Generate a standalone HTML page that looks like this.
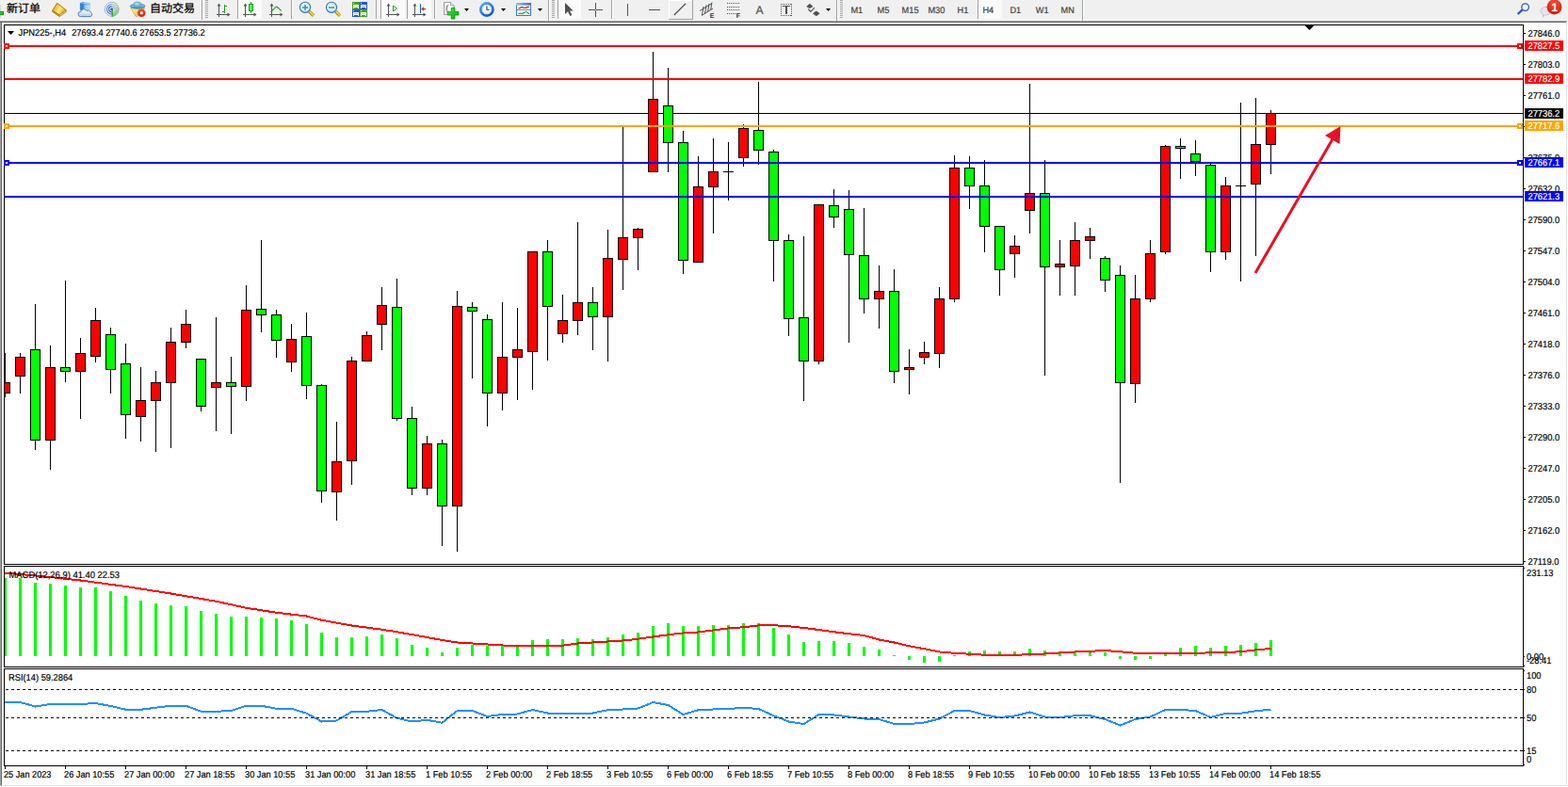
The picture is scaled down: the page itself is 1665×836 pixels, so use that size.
<!DOCTYPE html>
<html><head><meta charset="utf-8"><title>JPN225-,H4</title>
<style>html,body{margin:0;padding:0;background:#f0f0f0;}body{width:1665px;height:836px;overflow:hidden;font-family:"Liberation Sans",sans-serif;}svg{display:block}svg text{font-family:"Liberation Sans",sans-serif;}</style>
</head><body>
<svg width="1665" height="836" viewBox="0 0 1665 836" shape-rendering="crispEdges">
<rect x="0" y="0" width="1665" height="836" fill="#f0f0f0"/>
<rect x="0" y="21" width="1665" height="1" fill="#f7f7f7"/>
<rect x="0" y="22" width="1664" height="1" fill="#a0a0a0"/>
<rect x="0" y="23" width="1664" height="1" fill="#696969"/>
<rect x="1664" y="22" width="1" height="814" fill="#ffffff"/>
<rect x="0" y="24" width="1" height="811" fill="#a0a0a0"/>
<rect x="1" y="24" width="1" height="810" fill="#696969"/>
<rect x="2" y="24" width="1661" height="810" fill="#ffffff"/>
<rect x="1663" y="23" width="1" height="812" fill="#e3e3e3"/>
<rect x="1" y="834" width="1663" height="1" fill="#e3e3e3"/>
<rect x="0" y="835" width="1665" height="1" fill="#ffffff"/>
<rect x="4" y="26" width="1614" height="1" fill="#000"/>
<rect x="4" y="599" width="1614" height="1" fill="#000"/>
<rect x="4" y="26" width="1" height="574" fill="#000"/>
<rect x="1617" y="26" width="1" height="574" fill="#000"/>
<rect x="4" y="601" width="1614" height="1" fill="#000"/>
<rect x="4" y="708" width="1614" height="1" fill="#000"/>
<rect x="4" y="601" width="1" height="108" fill="#000"/>
<rect x="1617" y="601" width="1" height="108" fill="#000"/>
<rect x="4" y="710" width="1614" height="1" fill="#000"/>
<rect x="4" y="813" width="1614" height="1" fill="#000"/>
<rect x="4" y="710" width="1" height="104" fill="#000"/>
<rect x="1617" y="710" width="1" height="104" fill="#000"/>
<rect x="5" y="120" width="1612" height="1" fill="#000"/>
<rect x="5" y="375" width="1" height="47" fill="#000"/>
<rect x="5" y="406" width="6" height="12" fill="#000"/>
<rect x="5" y="407" width="5" height="10" fill="#ff0000"/>
<rect x="21" y="375" width="1" height="43" fill="#000"/>
<rect x="16" y="379" width="11" height="21" fill="#000"/>
<rect x="17" y="380" width="9" height="19" fill="#ff0000"/>
<rect x="37" y="323" width="1" height="155" fill="#000"/>
<rect x="32" y="371" width="11" height="97" fill="#000"/>
<rect x="33" y="372" width="9" height="95" fill="#00ff00"/>
<rect x="53" y="367" width="1" height="132" fill="#000"/>
<rect x="48" y="390" width="11" height="78" fill="#000"/>
<rect x="49" y="391" width="9" height="76" fill="#ff0000"/>
<rect x="69" y="298" width="1" height="108" fill="#000"/>
<rect x="64" y="390" width="11" height="5" fill="#000"/>
<rect x="65" y="391" width="9" height="3" fill="#00ff00"/>
<rect x="85" y="359" width="1" height="86" fill="#000"/>
<rect x="80" y="375" width="11" height="20" fill="#000"/>
<rect x="81" y="376" width="9" height="18" fill="#ff0000"/>
<rect x="101" y="327" width="1" height="58" fill="#000"/>
<rect x="96" y="340" width="11" height="39" fill="#000"/>
<rect x="97" y="341" width="9" height="37" fill="#ff0000"/>
<rect x="117" y="348" width="1" height="70" fill="#000"/>
<rect x="112" y="355" width="11" height="38" fill="#000"/>
<rect x="113" y="356" width="9" height="36" fill="#00ff00"/>
<rect x="133" y="365" width="1" height="101" fill="#000"/>
<rect x="128" y="386" width="11" height="55" fill="#000"/>
<rect x="129" y="387" width="9" height="53" fill="#00ff00"/>
<rect x="149" y="390" width="1" height="79" fill="#000"/>
<rect x="144" y="425" width="11" height="18" fill="#000"/>
<rect x="145" y="426" width="9" height="16" fill="#ff0000"/>
<rect x="165" y="394" width="1" height="86" fill="#000"/>
<rect x="160" y="406" width="11" height="20" fill="#000"/>
<rect x="161" y="407" width="9" height="18" fill="#ff0000"/>
<rect x="181" y="348" width="1" height="128" fill="#000"/>
<rect x="176" y="363" width="11" height="44" fill="#000"/>
<rect x="177" y="364" width="9" height="42" fill="#ff0000"/>
<rect x="197" y="329" width="1" height="41" fill="#000"/>
<rect x="192" y="344" width="11" height="20" fill="#000"/>
<rect x="193" y="345" width="9" height="18" fill="#ff0000"/>
<rect x="213" y="381" width="1" height="56" fill="#000"/>
<rect x="208" y="381" width="11" height="51" fill="#000"/>
<rect x="209" y="382" width="9" height="49" fill="#00ff00"/>
<rect x="229" y="337" width="1" height="121" fill="#000"/>
<rect x="224" y="406" width="11" height="6" fill="#000"/>
<rect x="225" y="407" width="9" height="4" fill="#ff0000"/>
<rect x="245" y="379" width="1" height="82" fill="#000"/>
<rect x="240" y="406" width="11" height="5" fill="#000"/>
<rect x="241" y="407" width="9" height="3" fill="#00ff00"/>
<rect x="261" y="303" width="1" height="123" fill="#000"/>
<rect x="256" y="329" width="11" height="82" fill="#000"/>
<rect x="257" y="330" width="9" height="80" fill="#ff0000"/>
<rect x="277" y="255" width="1" height="98" fill="#000"/>
<rect x="272" y="328" width="11" height="7" fill="#000"/>
<rect x="273" y="329" width="9" height="5" fill="#00ff00"/>
<rect x="293" y="329" width="1" height="51" fill="#000"/>
<rect x="288" y="334" width="11" height="28" fill="#000"/>
<rect x="289" y="335" width="9" height="26" fill="#00ff00"/>
<rect x="309" y="344" width="1" height="51" fill="#000"/>
<rect x="304" y="360" width="11" height="25" fill="#000"/>
<rect x="305" y="361" width="9" height="23" fill="#ff0000"/>
<rect x="325" y="332" width="1" height="92" fill="#000"/>
<rect x="320" y="357" width="11" height="53" fill="#000"/>
<rect x="321" y="358" width="9" height="51" fill="#00ff00"/>
<rect x="341" y="408" width="1" height="126" fill="#000"/>
<rect x="336" y="409" width="11" height="113" fill="#000"/>
<rect x="337" y="410" width="9" height="111" fill="#00ff00"/>
<rect x="357" y="448" width="1" height="105" fill="#000"/>
<rect x="352" y="490" width="11" height="33" fill="#000"/>
<rect x="353" y="491" width="9" height="31" fill="#ff0000"/>
<rect x="373" y="379" width="1" height="136" fill="#000"/>
<rect x="368" y="383" width="11" height="107" fill="#000"/>
<rect x="369" y="384" width="9" height="105" fill="#ff0000"/>
<rect x="389" y="352" width="1" height="32" fill="#000"/>
<rect x="384" y="356" width="11" height="28" fill="#000"/>
<rect x="385" y="357" width="9" height="26" fill="#ff0000"/>
<rect x="405" y="305" width="1" height="67" fill="#000"/>
<rect x="400" y="324" width="11" height="21" fill="#000"/>
<rect x="401" y="325" width="9" height="19" fill="#ff0000"/>
<rect x="421" y="296" width="1" height="151" fill="#000"/>
<rect x="416" y="326" width="11" height="119" fill="#000"/>
<rect x="417" y="327" width="9" height="117" fill="#00ff00"/>
<rect x="437" y="432" width="1" height="94" fill="#000"/>
<rect x="432" y="444" width="11" height="75" fill="#000"/>
<rect x="433" y="445" width="9" height="73" fill="#00ff00"/>
<rect x="453" y="463" width="1" height="63" fill="#000"/>
<rect x="448" y="471" width="11" height="48" fill="#000"/>
<rect x="449" y="472" width="9" height="46" fill="#ff0000"/>
<rect x="469" y="467" width="1" height="113" fill="#000"/>
<rect x="464" y="471" width="11" height="67" fill="#000"/>
<rect x="465" y="472" width="9" height="65" fill="#00ff00"/>
<rect x="485" y="309" width="1" height="277" fill="#000"/>
<rect x="480" y="325" width="11" height="213" fill="#000"/>
<rect x="481" y="326" width="9" height="211" fill="#ff0000"/>
<rect x="501" y="321" width="1" height="81" fill="#000"/>
<rect x="496" y="326" width="11" height="5" fill="#000"/>
<rect x="497" y="327" width="9" height="3" fill="#00ff00"/>
<rect x="517" y="334" width="1" height="119" fill="#000"/>
<rect x="512" y="339" width="11" height="79" fill="#000"/>
<rect x="513" y="340" width="9" height="77" fill="#00ff00"/>
<rect x="533" y="321" width="1" height="115" fill="#000"/>
<rect x="528" y="379" width="11" height="39" fill="#000"/>
<rect x="529" y="380" width="9" height="37" fill="#ff0000"/>
<rect x="549" y="327" width="1" height="98" fill="#000"/>
<rect x="544" y="371" width="11" height="9" fill="#000"/>
<rect x="545" y="372" width="9" height="7" fill="#ff0000"/>
<rect x="565" y="267" width="1" height="147" fill="#000"/>
<rect x="560" y="267" width="11" height="107" fill="#000"/>
<rect x="561" y="268" width="9" height="105" fill="#ff0000"/>
<rect x="581" y="255" width="1" height="128" fill="#000"/>
<rect x="576" y="267" width="11" height="59" fill="#000"/>
<rect x="577" y="268" width="9" height="57" fill="#00ff00"/>
<rect x="597" y="313" width="1" height="51" fill="#000"/>
<rect x="592" y="340" width="11" height="15" fill="#000"/>
<rect x="593" y="341" width="9" height="13" fill="#ff0000"/>
<rect x="613" y="236" width="1" height="120" fill="#000"/>
<rect x="608" y="321" width="11" height="20" fill="#000"/>
<rect x="609" y="322" width="9" height="18" fill="#ff0000"/>
<rect x="629" y="305" width="1" height="67" fill="#000"/>
<rect x="624" y="321" width="11" height="16" fill="#000"/>
<rect x="625" y="322" width="9" height="14" fill="#00ff00"/>
<rect x="645" y="244" width="1" height="140" fill="#000"/>
<rect x="640" y="274" width="11" height="63" fill="#000"/>
<rect x="641" y="275" width="9" height="61" fill="#ff0000"/>
<rect x="661" y="134" width="1" height="174" fill="#000"/>
<rect x="656" y="252" width="11" height="24" fill="#000"/>
<rect x="657" y="253" width="9" height="22" fill="#ff0000"/>
<rect x="677" y="242" width="1" height="45" fill="#000"/>
<rect x="672" y="243" width="11" height="10" fill="#000"/>
<rect x="673" y="244" width="9" height="8" fill="#ff0000"/>
<rect x="693" y="55" width="1" height="128" fill="#000"/>
<rect x="688" y="105" width="11" height="78" fill="#000"/>
<rect x="689" y="106" width="9" height="76" fill="#ff0000"/>
<rect x="709" y="72" width="1" height="111" fill="#000"/>
<rect x="704" y="112" width="11" height="40" fill="#000"/>
<rect x="705" y="113" width="9" height="38" fill="#00ff00"/>
<rect x="725" y="139" width="1" height="152" fill="#000"/>
<rect x="720" y="151" width="11" height="126" fill="#000"/>
<rect x="721" y="152" width="9" height="124" fill="#00ff00"/>
<rect x="741" y="166" width="1" height="113" fill="#000"/>
<rect x="736" y="198" width="11" height="81" fill="#000"/>
<rect x="737" y="199" width="9" height="79" fill="#ff0000"/>
<rect x="757" y="147" width="1" height="101" fill="#000"/>
<rect x="752" y="182" width="11" height="17" fill="#000"/>
<rect x="753" y="183" width="9" height="15" fill="#ff0000"/>
<rect x="773" y="151" width="1" height="62" fill="#000"/>
<rect x="768" y="182" width="11" height="1" fill="#000"/>
<rect x="789" y="132" width="1" height="45" fill="#000"/>
<rect x="784" y="136" width="11" height="32" fill="#000"/>
<rect x="785" y="137" width="9" height="30" fill="#ff0000"/>
<rect x="805" y="87" width="1" height="88" fill="#000"/>
<rect x="800" y="138" width="11" height="22" fill="#000"/>
<rect x="801" y="139" width="9" height="20" fill="#00ff00"/>
<rect x="821" y="159" width="1" height="140" fill="#000"/>
<rect x="816" y="161" width="11" height="95" fill="#000"/>
<rect x="817" y="162" width="9" height="93" fill="#00ff00"/>
<rect x="837" y="249" width="1" height="108" fill="#000"/>
<rect x="832" y="255" width="11" height="84" fill="#000"/>
<rect x="833" y="256" width="9" height="82" fill="#00ff00"/>
<rect x="853" y="251" width="1" height="175" fill="#000"/>
<rect x="848" y="337" width="11" height="47" fill="#000"/>
<rect x="849" y="338" width="9" height="45" fill="#00ff00"/>
<rect x="869" y="217" width="1" height="170" fill="#000"/>
<rect x="864" y="217" width="11" height="167" fill="#000"/>
<rect x="865" y="218" width="9" height="165" fill="#ff0000"/>
<rect x="885" y="201" width="1" height="41" fill="#000"/>
<rect x="880" y="218" width="11" height="13" fill="#000"/>
<rect x="881" y="219" width="9" height="11" fill="#00ff00"/>
<rect x="901" y="202" width="1" height="162" fill="#000"/>
<rect x="896" y="222" width="11" height="49" fill="#000"/>
<rect x="897" y="223" width="9" height="47" fill="#00ff00"/>
<rect x="917" y="221" width="1" height="112" fill="#000"/>
<rect x="912" y="271" width="11" height="47" fill="#000"/>
<rect x="913" y="272" width="9" height="45" fill="#00ff00"/>
<rect x="933" y="282" width="1" height="67" fill="#000"/>
<rect x="928" y="309" width="11" height="9" fill="#000"/>
<rect x="929" y="310" width="9" height="7" fill="#ff0000"/>
<rect x="949" y="286" width="1" height="121" fill="#000"/>
<rect x="944" y="309" width="11" height="86" fill="#000"/>
<rect x="945" y="310" width="9" height="84" fill="#00ff00"/>
<rect x="965" y="371" width="1" height="48" fill="#000"/>
<rect x="960" y="390" width="11" height="3" fill="#000"/>
<rect x="961" y="391" width="9" height="1" fill="#ff0000"/>
<rect x="981" y="363" width="1" height="24" fill="#000"/>
<rect x="976" y="374" width="11" height="6" fill="#000"/>
<rect x="977" y="375" width="9" height="4" fill="#ff0000"/>
<rect x="997" y="305" width="1" height="86" fill="#000"/>
<rect x="992" y="317" width="11" height="59" fill="#000"/>
<rect x="993" y="318" width="9" height="57" fill="#ff0000"/>
<rect x="1013" y="165" width="1" height="156" fill="#000"/>
<rect x="1008" y="178" width="11" height="140" fill="#000"/>
<rect x="1009" y="179" width="9" height="138" fill="#ff0000"/>
<rect x="1029" y="166" width="1" height="56" fill="#000"/>
<rect x="1024" y="178" width="11" height="20" fill="#000"/>
<rect x="1025" y="179" width="9" height="18" fill="#00ff00"/>
<rect x="1045" y="170" width="1" height="98" fill="#000"/>
<rect x="1040" y="197" width="11" height="44" fill="#000"/>
<rect x="1041" y="198" width="9" height="42" fill="#00ff00"/>
<rect x="1061" y="240" width="1" height="74" fill="#000"/>
<rect x="1056" y="240" width="11" height="47" fill="#000"/>
<rect x="1057" y="241" width="9" height="45" fill="#00ff00"/>
<rect x="1077" y="250" width="1" height="45" fill="#000"/>
<rect x="1072" y="261" width="11" height="9" fill="#000"/>
<rect x="1073" y="262" width="9" height="7" fill="#ff0000"/>
<rect x="1093" y="89" width="1" height="159" fill="#000"/>
<rect x="1088" y="205" width="11" height="19" fill="#000"/>
<rect x="1089" y="206" width="9" height="17" fill="#ff0000"/>
<rect x="1109" y="170" width="1" height="229" fill="#000"/>
<rect x="1104" y="205" width="11" height="79" fill="#000"/>
<rect x="1105" y="206" width="9" height="77" fill="#00ff00"/>
<rect x="1125" y="255" width="1" height="59" fill="#000"/>
<rect x="1120" y="280" width="11" height="4" fill="#000"/>
<rect x="1121" y="281" width="9" height="2" fill="#ff0000"/>
<rect x="1141" y="236" width="1" height="78" fill="#000"/>
<rect x="1136" y="255" width="11" height="28" fill="#000"/>
<rect x="1137" y="256" width="9" height="26" fill="#ff0000"/>
<rect x="1157" y="242" width="1" height="33" fill="#000"/>
<rect x="1152" y="251" width="11" height="5" fill="#000"/>
<rect x="1153" y="252" width="9" height="3" fill="#ff0000"/>
<rect x="1173" y="272" width="1" height="38" fill="#000"/>
<rect x="1168" y="274" width="11" height="24" fill="#000"/>
<rect x="1169" y="275" width="9" height="22" fill="#00ff00"/>
<rect x="1189" y="282" width="1" height="231" fill="#000"/>
<rect x="1184" y="292" width="11" height="115" fill="#000"/>
<rect x="1185" y="293" width="9" height="113" fill="#00ff00"/>
<rect x="1205" y="292" width="1" height="136" fill="#000"/>
<rect x="1200" y="317" width="11" height="91" fill="#000"/>
<rect x="1201" y="318" width="9" height="89" fill="#ff0000"/>
<rect x="1221" y="255" width="1" height="66" fill="#000"/>
<rect x="1216" y="269" width="11" height="49" fill="#000"/>
<rect x="1217" y="270" width="9" height="47" fill="#ff0000"/>
<rect x="1237" y="154" width="1" height="116" fill="#000"/>
<rect x="1232" y="155" width="11" height="113" fill="#000"/>
<rect x="1233" y="156" width="9" height="111" fill="#ff0000"/>
<rect x="1253" y="147" width="1" height="43" fill="#000"/>
<rect x="1248" y="155" width="11" height="3" fill="#000"/>
<rect x="1249" y="156" width="9" height="1" fill="#00ff00"/>
<rect x="1269" y="149" width="1" height="38" fill="#000"/>
<rect x="1264" y="163" width="11" height="9" fill="#000"/>
<rect x="1265" y="164" width="9" height="7" fill="#00ff00"/>
<rect x="1285" y="174" width="1" height="115" fill="#000"/>
<rect x="1280" y="175" width="11" height="93" fill="#000"/>
<rect x="1281" y="176" width="9" height="91" fill="#00ff00"/>
<rect x="1301" y="188" width="1" height="88" fill="#000"/>
<rect x="1296" y="197" width="11" height="71" fill="#000"/>
<rect x="1297" y="198" width="9" height="69" fill="#ff0000"/>
<rect x="1317" y="109" width="1" height="190" fill="#000"/>
<rect x="1312" y="197" width="11" height="1" fill="#000"/>
<rect x="1333" y="104" width="1" height="168" fill="#000"/>
<rect x="1328" y="153" width="11" height="43" fill="#000"/>
<rect x="1329" y="154" width="9" height="41" fill="#ff0000"/>
<rect x="1349" y="117" width="1" height="68" fill="#000"/>
<rect x="1344" y="120" width="11" height="34" fill="#000"/>
<rect x="1345" y="121" width="9" height="32" fill="#ff0000"/>
<rect x="5" y="48" width="1612" height="2" fill="#ff0000"/>
<rect x="5" y="83" width="1612" height="2" fill="#ff0000"/>
<rect x="5" y="133" width="1612" height="2" fill="#ffa500"/>
<rect x="5" y="172" width="1612" height="2" fill="#0000ff"/>
<rect x="5" y="208" width="1612" height="2" fill="#0000ff"/>
<rect x="4" y="46" width="6" height="6" fill="#ff0000"/>
<rect x="6" y="48" width="2" height="2" fill="#fff"/>
<rect x="1611" y="46" width="6" height="6" fill="#ff0000"/>
<rect x="1613" y="48" width="2" height="2" fill="#fff"/>
<rect x="4" y="131" width="6" height="6" fill="#ffa500"/>
<rect x="6" y="133" width="2" height="2" fill="#fff"/>
<rect x="1611" y="131" width="6" height="6" fill="#ffa500"/>
<rect x="1613" y="133" width="2" height="2" fill="#fff"/>
<rect x="4" y="170" width="6" height="6" fill="#0000ff"/>
<rect x="6" y="172" width="2" height="2" fill="#fff"/>
<rect x="1611" y="170" width="6" height="6" fill="#0000ff"/>
<rect x="1613" y="172" width="2" height="2" fill="#fff"/>
<g shape-rendering="auto"><line x1="1333" y1="290" x2="1416" y2="146" stroke="#e81123" stroke-width="3"/><polygon points="1423.5,134 1407,144 1422.5,153" fill="#e81123"/></g>
<polygon points="1385.5,27 1395.5,27 1390.5,32" fill="#000" shape-rendering="auto"/>
<rect x="1618" y="35" width="2" height="1" fill="#000"/>
<text transform="translate(1622.5,39) scale(0.93,1)" font-size="10" fill="#000" stroke="#000" stroke-width="0.2" text-anchor="start" font-weight="normal" text-rendering="geometricPrecision">27846.0</text>
<rect x="1618" y="68" width="2" height="1" fill="#000"/>
<text transform="translate(1622.5,72) scale(0.93,1)" font-size="10" fill="#000" stroke="#000" stroke-width="0.2" text-anchor="start" font-weight="normal" text-rendering="geometricPrecision">27803.0</text>
<rect x="1618" y="101" width="2" height="1" fill="#000"/>
<text transform="translate(1622.5,105) scale(0.93,1)" font-size="10" fill="#000" stroke="#000" stroke-width="0.2" text-anchor="start" font-weight="normal" text-rendering="geometricPrecision">27761.0</text>
<rect x="1618" y="134" width="2" height="1" fill="#000"/>
<rect x="1618" y="167" width="2" height="1" fill="#000"/>
<text transform="translate(1622.5,171) scale(0.93,1)" font-size="10" fill="#000" stroke="#000" stroke-width="0.2" text-anchor="start" font-weight="normal" text-rendering="geometricPrecision">27675.0</text>
<rect x="1618" y="200" width="2" height="1" fill="#000"/>
<text transform="translate(1622.5,204) scale(0.93,1)" font-size="10" fill="#000" stroke="#000" stroke-width="0.2" text-anchor="start" font-weight="normal" text-rendering="geometricPrecision">27632.0</text>
<rect x="1618" y="233" width="2" height="1" fill="#000"/>
<text transform="translate(1622.5,237) scale(0.93,1)" font-size="10" fill="#000" stroke="#000" stroke-width="0.2" text-anchor="start" font-weight="normal" text-rendering="geometricPrecision">27590.0</text>
<rect x="1618" y="266" width="2" height="1" fill="#000"/>
<text transform="translate(1622.5,270) scale(0.93,1)" font-size="10" fill="#000" stroke="#000" stroke-width="0.2" text-anchor="start" font-weight="normal" text-rendering="geometricPrecision">27547.0</text>
<rect x="1618" y="299" width="2" height="1" fill="#000"/>
<text transform="translate(1622.5,303) scale(0.93,1)" font-size="10" fill="#000" stroke="#000" stroke-width="0.2" text-anchor="start" font-weight="normal" text-rendering="geometricPrecision">27504.0</text>
<rect x="1618" y="332" width="2" height="1" fill="#000"/>
<text transform="translate(1622.5,336) scale(0.93,1)" font-size="10" fill="#000" stroke="#000" stroke-width="0.2" text-anchor="start" font-weight="normal" text-rendering="geometricPrecision">27461.0</text>
<rect x="1618" y="365" width="2" height="1" fill="#000"/>
<text transform="translate(1622.5,369) scale(0.93,1)" font-size="10" fill="#000" stroke="#000" stroke-width="0.2" text-anchor="start" font-weight="normal" text-rendering="geometricPrecision">27418.0</text>
<rect x="1618" y="398" width="2" height="1" fill="#000"/>
<text transform="translate(1622.5,402) scale(0.93,1)" font-size="10" fill="#000" stroke="#000" stroke-width="0.2" text-anchor="start" font-weight="normal" text-rendering="geometricPrecision">27376.0</text>
<rect x="1618" y="431" width="2" height="1" fill="#000"/>
<text transform="translate(1622.5,435) scale(0.93,1)" font-size="10" fill="#000" stroke="#000" stroke-width="0.2" text-anchor="start" font-weight="normal" text-rendering="geometricPrecision">27333.0</text>
<rect x="1618" y="464" width="2" height="1" fill="#000"/>
<text transform="translate(1622.5,468) scale(0.93,1)" font-size="10" fill="#000" stroke="#000" stroke-width="0.2" text-anchor="start" font-weight="normal" text-rendering="geometricPrecision">27290.0</text>
<rect x="1618" y="497" width="2" height="1" fill="#000"/>
<text transform="translate(1622.5,501) scale(0.93,1)" font-size="10" fill="#000" stroke="#000" stroke-width="0.2" text-anchor="start" font-weight="normal" text-rendering="geometricPrecision">27247.0</text>
<rect x="1618" y="530" width="2" height="1" fill="#000"/>
<text transform="translate(1622.5,534) scale(0.93,1)" font-size="10" fill="#000" stroke="#000" stroke-width="0.2" text-anchor="start" font-weight="normal" text-rendering="geometricPrecision">27205.0</text>
<rect x="1618" y="563" width="2" height="1" fill="#000"/>
<text transform="translate(1622.5,567) scale(0.93,1)" font-size="10" fill="#000" stroke="#000" stroke-width="0.2" text-anchor="start" font-weight="normal" text-rendering="geometricPrecision">27162.0</text>
<rect x="1618" y="596" width="2" height="1" fill="#000"/>
<text transform="translate(1622.5,600) scale(0.93,1)" font-size="10" fill="#000" stroke="#000" stroke-width="0.2" text-anchor="start" font-weight="normal" text-rendering="geometricPrecision">27119.0</text>
<rect x="1619" y="43" width="41" height="11" fill="#ff0000"/>
<text transform="translate(1622.5,52) scale(0.93,1)" font-size="10" fill="#fff" stroke="#fff" stroke-width="0.2" text-anchor="start" font-weight="normal" text-rendering="geometricPrecision">27827.5</text>
<rect x="1619" y="78" width="41" height="11" fill="#ff0000"/>
<text transform="translate(1622.5,87) scale(0.93,1)" font-size="10" fill="#fff" stroke="#fff" stroke-width="0.2" text-anchor="start" font-weight="normal" text-rendering="geometricPrecision">27782.9</text>
<rect x="1619" y="128" width="41" height="11" fill="#ffa500"/>
<text transform="translate(1622.5,137) scale(0.93,1)" font-size="10" fill="#fff" stroke="#fff" stroke-width="0.2" text-anchor="start" font-weight="normal" text-rendering="geometricPrecision">27717.6</text>
<rect x="1619" y="167" width="41" height="11" fill="#0000ff"/>
<text transform="translate(1622.5,176) scale(0.93,1)" font-size="10" fill="#fff" stroke="#fff" stroke-width="0.2" text-anchor="start" font-weight="normal" text-rendering="geometricPrecision">27667.1</text>
<rect x="1619" y="203" width="41" height="11" fill="#0000ff"/>
<text transform="translate(1622.5,212) scale(0.93,1)" font-size="10" fill="#fff" stroke="#fff" stroke-width="0.2" text-anchor="start" font-weight="normal" text-rendering="geometricPrecision">27621.3</text>
<rect x="1619" y="115" width="41" height="11" fill="#000"/>
<text transform="translate(1622.5,124) scale(0.93,1)" font-size="10" fill="#fff" stroke="#fff" stroke-width="0.2" text-anchor="start" font-weight="normal" text-rendering="geometricPrecision">27736.2</text>
<polygon points="8,33 15,33 11.5,37" fill="#000" shape-rendering="auto"/>
<text transform="translate(19.5,38) scale(0.93,1)" font-size="10" fill="#000" stroke="#000" stroke-width="0.2" text-anchor="start" font-weight="normal" text-rendering="geometricPrecision">JPN225-,H4</text>
<text transform="translate(76.2,38) scale(0.925,1)" font-size="10" fill="#000" stroke="#000" stroke-width="0.2" text-anchor="start" font-weight="normal" text-rendering="geometricPrecision">27693.4 27740.6 27653.5 27736.2</text>
<rect x="5" y="614" width="2" height="83" fill="#00ff00"/>
<rect x="20" y="614" width="3" height="83" fill="#00ff00"/>
<rect x="36" y="619" width="3" height="78" fill="#00ff00"/>
<rect x="52" y="620" width="3" height="77" fill="#00ff00"/>
<rect x="68" y="622" width="3" height="75" fill="#00ff00"/>
<rect x="84" y="624" width="3" height="73" fill="#00ff00"/>
<rect x="100" y="624" width="3" height="73" fill="#00ff00"/>
<rect x="116" y="628" width="3" height="69" fill="#00ff00"/>
<rect x="132" y="633" width="3" height="64" fill="#00ff00"/>
<rect x="148" y="638" width="3" height="59" fill="#00ff00"/>
<rect x="164" y="641" width="3" height="56" fill="#00ff00"/>
<rect x="180" y="643" width="3" height="54" fill="#00ff00"/>
<rect x="196" y="644" width="3" height="53" fill="#00ff00"/>
<rect x="212" y="649" width="3" height="48" fill="#00ff00"/>
<rect x="228" y="652" width="3" height="45" fill="#00ff00"/>
<rect x="244" y="655" width="3" height="42" fill="#00ff00"/>
<rect x="260" y="655" width="3" height="42" fill="#00ff00"/>
<rect x="276" y="656" width="3" height="41" fill="#00ff00"/>
<rect x="292" y="657" width="3" height="40" fill="#00ff00"/>
<rect x="308" y="659" width="3" height="38" fill="#00ff00"/>
<rect x="324" y="663" width="3" height="34" fill="#00ff00"/>
<rect x="340" y="672" width="3" height="25" fill="#00ff00"/>
<rect x="356" y="677" width="3" height="20" fill="#00ff00"/>
<rect x="372" y="677" width="3" height="20" fill="#00ff00"/>
<rect x="388" y="676" width="3" height="21" fill="#00ff00"/>
<rect x="404" y="674" width="3" height="23" fill="#00ff00"/>
<rect x="420" y="678" width="3" height="19" fill="#00ff00"/>
<rect x="436" y="685" width="3" height="12" fill="#00ff00"/>
<rect x="452" y="688" width="3" height="9" fill="#00ff00"/>
<rect x="468" y="693" width="3" height="4" fill="#00ff00"/>
<rect x="484" y="688" width="3" height="9" fill="#00ff00"/>
<rect x="500" y="685" width="3" height="12" fill="#00ff00"/>
<rect x="516" y="686" width="3" height="11" fill="#00ff00"/>
<rect x="532" y="686" width="3" height="11" fill="#00ff00"/>
<rect x="548" y="687" width="3" height="10" fill="#00ff00"/>
<rect x="564" y="680" width="3" height="17" fill="#00ff00"/>
<rect x="580" y="679" width="3" height="18" fill="#00ff00"/>
<rect x="596" y="679" width="3" height="18" fill="#00ff00"/>
<rect x="612" y="678" width="3" height="19" fill="#00ff00"/>
<rect x="628" y="679" width="3" height="18" fill="#00ff00"/>
<rect x="644" y="677" width="3" height="20" fill="#00ff00"/>
<rect x="660" y="674" width="3" height="23" fill="#00ff00"/>
<rect x="676" y="672" width="3" height="25" fill="#00ff00"/>
<rect x="692" y="665" width="3" height="32" fill="#00ff00"/>
<rect x="708" y="662" width="3" height="35" fill="#00ff00"/>
<rect x="724" y="665" width="3" height="32" fill="#00ff00"/>
<rect x="740" y="665" width="3" height="32" fill="#00ff00"/>
<rect x="756" y="664" width="3" height="33" fill="#00ff00"/>
<rect x="772" y="664" width="3" height="33" fill="#00ff00"/>
<rect x="788" y="662" width="3" height="35" fill="#00ff00"/>
<rect x="804" y="662" width="3" height="35" fill="#00ff00"/>
<rect x="820" y="667" width="3" height="30" fill="#00ff00"/>
<rect x="836" y="674" width="3" height="23" fill="#00ff00"/>
<rect x="852" y="682" width="3" height="15" fill="#00ff00"/>
<rect x="868" y="681" width="3" height="16" fill="#00ff00"/>
<rect x="884" y="681" width="3" height="16" fill="#00ff00"/>
<rect x="900" y="683" width="3" height="14" fill="#00ff00"/>
<rect x="916" y="687" width="3" height="10" fill="#00ff00"/>
<rect x="932" y="690" width="3" height="7" fill="#00ff00"/>
<rect x="948" y="696" width="3" height="1" fill="#00ff00"/>
<rect x="964" y="697" width="3" height="4" fill="#00ff00"/>
<rect x="980" y="697" width="3" height="7" fill="#00ff00"/>
<rect x="996" y="697" width="3" height="6" fill="#00ff00"/>
<rect x="1012" y="696" width="3" height="1" fill="#00ff00"/>
<rect x="1028" y="692" width="3" height="5" fill="#00ff00"/>
<rect x="1044" y="691" width="3" height="6" fill="#00ff00"/>
<rect x="1060" y="692" width="3" height="5" fill="#00ff00"/>
<rect x="1076" y="692" width="3" height="5" fill="#00ff00"/>
<rect x="1092" y="689" width="3" height="8" fill="#00ff00"/>
<rect x="1108" y="691" width="3" height="6" fill="#00ff00"/>
<rect x="1124" y="692" width="3" height="5" fill="#00ff00"/>
<rect x="1140" y="692" width="3" height="5" fill="#00ff00"/>
<rect x="1156" y="692" width="3" height="5" fill="#00ff00"/>
<rect x="1172" y="693" width="3" height="4" fill="#00ff00"/>
<rect x="1188" y="697" width="3" height="3" fill="#00ff00"/>
<rect x="1204" y="697" width="3" height="4" fill="#00ff00"/>
<rect x="1220" y="697" width="3" height="3" fill="#00ff00"/>
<rect x="1236" y="694" width="3" height="3" fill="#00ff00"/>
<rect x="1252" y="688" width="3" height="9" fill="#00ff00"/>
<rect x="1268" y="686" width="3" height="11" fill="#00ff00"/>
<rect x="1284" y="688" width="3" height="9" fill="#00ff00"/>
<rect x="1300" y="686" width="3" height="11" fill="#00ff00"/>
<rect x="1316" y="685" width="3" height="12" fill="#00ff00"/>
<rect x="1332" y="683" width="3" height="14" fill="#00ff00"/>
<rect x="1348" y="680" width="3" height="17" fill="#00ff00"/>
<polyline points="5,608.5 21.5,610 37.5,611.5 53.5,613 85.5,616.5 133.5,623 181.5,630.5 229.5,638.75 261.5,645.75 293.5,650.75 325.5,654.5 341.5,658.75 373.5,664.5 405.5,668.75 421.5,671.25 453.5,677 469.5,680 485.5,682.5 501.5,683.5 517.5,684.5 533.5,685.5 565.5,685.75 597.5,685.75 613.5,683.5 629.5,682.5 645.5,681.5 661.5,680.5 677.5,678.75 693.5,676.5 709.5,674.25 725.5,672.5 741.5,671.5 757.5,669.5 773.5,667.5 789.5,666.25 805.5,664.5 821.5,664.25 837.5,665.25 853.5,667 869.5,669 885.5,671.25 901.5,673.25 917.5,675 933.5,679.5 949.5,682.5 965.5,686.25 981.5,689.25 997.5,692.5 1013.5,693.75 1029.5,694.75 1045.5,695.75 1061.5,695.75 1077.5,695.75 1093.5,695.25 1109.5,694.5 1125.5,693.5 1141.5,692.5 1157.5,691.75 1173.5,691 1189.5,692.25 1205.5,693.75 1221.5,694 1237.5,694 1253.5,694 1269.5,694 1285.5,693.25 1301.5,693 1317.5,692.25 1333.5,690.5 1349.5,688.75" fill="none" stroke="#ff0000" stroke-width="2" shape-rendering="crispEdges"/>
<text transform="translate(9.5,614) scale(0.94,1)" font-size="10" fill="#000" stroke="#000" stroke-width="0.2" text-anchor="start" font-weight="normal" text-rendering="geometricPrecision">MACD(12,26,9) 41.40 22.53</text>
<rect x="1618" y="603" width="1" height="1" fill="#000"/>
<rect x="1618" y="697" width="1" height="1" fill="#000"/>
<rect x="1618" y="707" width="1" height="1" fill="#000"/>
<text transform="translate(1621,612) scale(0.93,1)" font-size="10" fill="#000" stroke="#000" stroke-width="0.2" text-anchor="start" font-weight="normal" text-rendering="geometricPrecision">231.13</text>
<text transform="translate(1621,701) scale(0.93,1)" font-size="10" fill="#000" stroke="#000" stroke-width="0.2" text-anchor="start" font-weight="normal" text-rendering="geometricPrecision">0.00</text>
<text transform="translate(1621,705) scale(0.93,1)" font-size="10" fill="#000" stroke="#000" stroke-width="0.2" text-anchor="start" font-weight="normal" text-rendering="geometricPrecision">-28.41</text>
<polyline points="5,746 21.5,746 37.5,750.5 53.5,748 69.5,748 85.5,748 101.5,747 117.5,750 133.5,753.75 149.5,753.75 165.5,751.75 181.5,749.75 197.5,749.75 213.5,755.75 229.5,755.75 245.5,755 261.5,749.75 277.5,749.75 293.5,752.75 309.5,752.75 325.5,757.75 341.5,766.5 357.5,765.5 373.5,756 389.5,755.75 405.5,754 421.5,762.75 437.5,766.5 453.5,764.75 469.5,767.75 485.5,755 501.5,755 517.5,761 533.5,759 549.5,758.5 565.5,754 581.5,757.5 597.5,757.5 613.5,757.5 629.5,757.5 645.5,754.25 661.5,753.5 677.5,752.5 693.5,746 709.5,749 725.5,759 741.5,754.25 757.5,753.5 773.5,753 789.5,751.75 805.5,753 821.5,760.25 837.5,766.5 853.5,769 869.5,759 885.5,759.5 901.5,761.5 917.5,763.5 933.5,764 949.5,769 965.5,769 981.5,767.5 997.5,763.5 1013.5,755 1029.5,755 1045.5,759.5 1061.5,762 1077.5,760.5 1093.5,756.5 1109.5,761.5 1125.5,762 1141.5,760.25 1157.5,760.25 1173.5,764 1189.5,770.5 1205.5,764 1221.5,761.5 1237.5,754 1253.5,754 1269.5,755 1285.5,762 1301.5,757.75 1317.5,757.75 1333.5,755.25 1349.5,753.75" fill="none" stroke="#1e90ff" stroke-width="2" shape-rendering="crispEdges"/>
<line x1="6" y1="732.5" x2="1617" y2="732.5" stroke="#000" stroke-width="1" stroke-dasharray="3,3"/>
<rect x="1618" y="732" width="1" height="1" fill="#000"/>
<line x1="6" y1="762.5" x2="1617" y2="762.5" stroke="#000" stroke-width="1" stroke-dasharray="3,3"/>
<rect x="1618" y="762" width="1" height="1" fill="#000"/>
<line x1="6" y1="797.5" x2="1617" y2="797.5" stroke="#000" stroke-width="1" stroke-dasharray="3,3"/>
<rect x="1618" y="797" width="1" height="1" fill="#000"/>
<text transform="translate(9,723) scale(0.93,1)" font-size="10" fill="#000" stroke="#000" stroke-width="0.2" text-anchor="start" font-weight="normal" text-rendering="geometricPrecision">RSI(14) 59.2864</text>
<rect x="1618" y="712" width="1" height="1" fill="#000"/>
<rect x="1618" y="812" width="1" height="1" fill="#000"/>
<text transform="translate(1621,721) scale(0.93,1)" font-size="10" fill="#000" stroke="#000" stroke-width="0.2" text-anchor="start" font-weight="normal" text-rendering="geometricPrecision">100</text>
<text transform="translate(1621,736) scale(0.93,1)" font-size="10" fill="#000" stroke="#000" stroke-width="0.2" text-anchor="start" font-weight="normal" text-rendering="geometricPrecision">80</text>
<text transform="translate(1621,766) scale(0.93,1)" font-size="10" fill="#000" stroke="#000" stroke-width="0.2" text-anchor="start" font-weight="normal" text-rendering="geometricPrecision">50</text>
<text transform="translate(1621,801) scale(0.93,1)" font-size="10" fill="#000" stroke="#000" stroke-width="0.2" text-anchor="start" font-weight="normal" text-rendering="geometricPrecision">15</text>
<text transform="translate(1621,810) scale(0.93,1)" font-size="10" fill="#000" stroke="#000" stroke-width="0.2" text-anchor="start" font-weight="normal" text-rendering="geometricPrecision">0</text>
<rect x="5" y="814" width="1" height="3" fill="#000"/>
<text transform="translate(4,826) scale(0.916,1)" font-size="10" fill="#000" stroke="#000" stroke-width="0.2" text-anchor="start" font-weight="normal" text-rendering="geometricPrecision">25 Jan 2023</text>
<rect x="69" y="814" width="1" height="3" fill="#000"/>
<text transform="translate(68,826) scale(0.922,1)" font-size="10" fill="#000" stroke="#000" stroke-width="0.2" text-anchor="start" font-weight="normal" text-rendering="geometricPrecision">26 Jan 10:55</text>
<rect x="133" y="814" width="1" height="3" fill="#000"/>
<text transform="translate(132,826) scale(0.922,1)" font-size="10" fill="#000" stroke="#000" stroke-width="0.2" text-anchor="start" font-weight="normal" text-rendering="geometricPrecision">27 Jan 00:00</text>
<rect x="197" y="814" width="1" height="3" fill="#000"/>
<text transform="translate(196,826) scale(0.922,1)" font-size="10" fill="#000" stroke="#000" stroke-width="0.2" text-anchor="start" font-weight="normal" text-rendering="geometricPrecision">27 Jan 18:55</text>
<rect x="261" y="814" width="1" height="3" fill="#000"/>
<text transform="translate(260,826) scale(0.922,1)" font-size="10" fill="#000" stroke="#000" stroke-width="0.2" text-anchor="start" font-weight="normal" text-rendering="geometricPrecision">30 Jan 10:55</text>
<rect x="325" y="814" width="1" height="3" fill="#000"/>
<text transform="translate(324,826) scale(0.922,1)" font-size="10" fill="#000" stroke="#000" stroke-width="0.2" text-anchor="start" font-weight="normal" text-rendering="geometricPrecision">31 Jan 00:00</text>
<rect x="389" y="814" width="1" height="3" fill="#000"/>
<text transform="translate(388,826) scale(0.922,1)" font-size="10" fill="#000" stroke="#000" stroke-width="0.2" text-anchor="start" font-weight="normal" text-rendering="geometricPrecision">31 Jan 18:55</text>
<rect x="453" y="814" width="1" height="3" fill="#000"/>
<text transform="translate(452,826) scale(0.922,1)" font-size="10" fill="#000" stroke="#000" stroke-width="0.2" text-anchor="start" font-weight="normal" text-rendering="geometricPrecision">1 Feb 10:55</text>
<rect x="517" y="814" width="1" height="3" fill="#000"/>
<text transform="translate(516,826) scale(0.922,1)" font-size="10" fill="#000" stroke="#000" stroke-width="0.2" text-anchor="start" font-weight="normal" text-rendering="geometricPrecision">2 Feb 00:00</text>
<rect x="581" y="814" width="1" height="3" fill="#000"/>
<text transform="translate(580,826) scale(0.922,1)" font-size="10" fill="#000" stroke="#000" stroke-width="0.2" text-anchor="start" font-weight="normal" text-rendering="geometricPrecision">2 Feb 18:55</text>
<rect x="645" y="814" width="1" height="3" fill="#000"/>
<text transform="translate(644,826) scale(0.922,1)" font-size="10" fill="#000" stroke="#000" stroke-width="0.2" text-anchor="start" font-weight="normal" text-rendering="geometricPrecision">3 Feb 10:55</text>
<rect x="709" y="814" width="1" height="3" fill="#000"/>
<text transform="translate(708,826) scale(0.922,1)" font-size="10" fill="#000" stroke="#000" stroke-width="0.2" text-anchor="start" font-weight="normal" text-rendering="geometricPrecision">6 Feb 00:00</text>
<rect x="773" y="814" width="1" height="3" fill="#000"/>
<text transform="translate(772,826) scale(0.922,1)" font-size="10" fill="#000" stroke="#000" stroke-width="0.2" text-anchor="start" font-weight="normal" text-rendering="geometricPrecision">6 Feb 18:55</text>
<rect x="837" y="814" width="1" height="3" fill="#000"/>
<text transform="translate(836,826) scale(0.922,1)" font-size="10" fill="#000" stroke="#000" stroke-width="0.2" text-anchor="start" font-weight="normal" text-rendering="geometricPrecision">7 Feb 10:55</text>
<rect x="901" y="814" width="1" height="3" fill="#000"/>
<text transform="translate(900,826) scale(0.922,1)" font-size="10" fill="#000" stroke="#000" stroke-width="0.2" text-anchor="start" font-weight="normal" text-rendering="geometricPrecision">8 Feb 00:00</text>
<rect x="965" y="814" width="1" height="3" fill="#000"/>
<text transform="translate(964,826) scale(0.922,1)" font-size="10" fill="#000" stroke="#000" stroke-width="0.2" text-anchor="start" font-weight="normal" text-rendering="geometricPrecision">8 Feb 18:55</text>
<rect x="1029" y="814" width="1" height="3" fill="#000"/>
<text transform="translate(1028,826) scale(0.922,1)" font-size="10" fill="#000" stroke="#000" stroke-width="0.2" text-anchor="start" font-weight="normal" text-rendering="geometricPrecision">9 Feb 10:55</text>
<rect x="1093" y="814" width="1" height="3" fill="#000"/>
<text transform="translate(1092,826) scale(0.922,1)" font-size="10" fill="#000" stroke="#000" stroke-width="0.2" text-anchor="start" font-weight="normal" text-rendering="geometricPrecision">10 Feb 00:00</text>
<rect x="1157" y="814" width="1" height="3" fill="#000"/>
<text transform="translate(1156,826) scale(0.922,1)" font-size="10" fill="#000" stroke="#000" stroke-width="0.2" text-anchor="start" font-weight="normal" text-rendering="geometricPrecision">10 Feb 18:55</text>
<rect x="1221" y="814" width="1" height="3" fill="#000"/>
<text transform="translate(1220,826) scale(0.922,1)" font-size="10" fill="#000" stroke="#000" stroke-width="0.2" text-anchor="start" font-weight="normal" text-rendering="geometricPrecision">13 Feb 10:55</text>
<rect x="1285" y="814" width="1" height="3" fill="#000"/>
<text transform="translate(1284,826) scale(0.922,1)" font-size="10" fill="#000" stroke="#000" stroke-width="0.2" text-anchor="start" font-weight="normal" text-rendering="geometricPrecision">14 Feb 00:00</text>
<rect x="1349" y="814" width="1" height="3" fill="#000"/>
<text transform="translate(1348,826) scale(0.922,1)" font-size="10" fill="#000" stroke="#000" stroke-width="0.2" text-anchor="start" font-weight="normal" text-rendering="geometricPrecision">14 Feb 18:55</text>
<defs>
<pattern id="chk" width="2" height="2" patternUnits="userSpaceOnUse"><rect width="2" height="2" fill="#f6f6f6"/><rect width="1" height="1" fill="#ffffff"/><rect x="1" y="1" width="1" height="1" fill="#ffffff"/></pattern>
<linearGradient id="gold" x1="0" y1="0.2" x2="1" y2="0.6"><stop offset="0" stop-color="#d49a10"/><stop offset="0.55" stop-color="#ffec78"/><stop offset="1" stop-color="#dca418"/></linearGradient>
<linearGradient id="sig" x1="0" y1="0" x2="0.3" y2="1"><stop offset="0" stop-color="#f0f0f0"/><stop offset="0.45" stop-color="#cfe4cf"/><stop offset="1" stop-color="#58b858"/></linearGradient>
<linearGradient id="cloud" x1="0" y1="0" x2="0" y2="1"><stop offset="0" stop-color="#ffffff"/><stop offset="1" stop-color="#b8cce8"/></linearGradient>
<linearGradient id="srv" x1="0" y1="0" x2="1" y2="0.4"><stop offset="0" stop-color="#48a8ff"/><stop offset="1" stop-color="#a4d8ff"/></linearGradient>
<radialGradient id="lens" cx="0.4" cy="0.35" r="0.7"><stop offset="0" stop-color="#f4fdff"/><stop offset="1" stop-color="#bfe4f7"/></radialGradient>
<radialGradient id="badge" cx="0.5" cy="0.2" r="0.9"><stop offset="0" stop-color="#f05030"/><stop offset="1" stop-color="#d01808"/></radialGradient>
<radialGradient id="clock" cx="0.4" cy="0.35" r="0.8"><stop offset="0" stop-color="#ffffff"/><stop offset="1" stop-color="#d8e6f0"/></radialGradient>
<linearGradient id="hat" x1="0" y1="0" x2="0" y2="1"><stop offset="0" stop-color="#8fd0f0"/><stop offset="1" stop-color="#3a90c8"/></linearGradient>
<linearGradient id="gplus" x1="0" y1="0" x2="1" y2="1"><stop offset="0" stop-color="#60f060"/><stop offset="0.5" stop-color="#20cc20"/><stop offset="1" stop-color="#10a810"/></linearGradient>
<linearGradient id="ring" x1="0" y1="0" x2="0.6" y2="1"><stop offset="0" stop-color="#58b0ff"/><stop offset="1" stop-color="#0c58c0"/></linearGradient>
<linearGradient id="thead" x1="0" y1="0" x2="1" y2="0"><stop offset="0" stop-color="#9cc0f4"/><stop offset="1" stop-color="#2c6cd0"/></linearGradient>
<linearGradient id="ycone" x1="0" y1="0" x2="1" y2="1"><stop offset="0" stop-color="#fff8a0"/><stop offset="1" stop-color="#e8b020"/></linearGradient>
</defs>
<rect x="0" y="5" width="1" height="14" fill="#d4d4d4"/>
<rect x="0" y="12" width="4" height="4" fill="#0a9c0a"/>
<rect x="0" y="13" width="3" height="2" fill="#08e028"/>
<g>
<text x="7" y="13.2" font-size="12" fill="#000" stroke="#000" stroke-width="0.25" text-anchor="start" text-rendering="geometricPrecision" style="font-family:'Liberation Sans','Noto Sans CJK SC',sans-serif;">新订单</text>
</g>
<g shape-rendering="auto"><path d="M55,12.3 L55.3,10.9 Q57.6,7.6 60.3,3 Q61.6,3.4 70.6,10.6 L70.7,12.8 L63.2,18 Z" fill="#a8720f"/><path d="M60.5,3.9 Q62,4.6 69.8,10.8 L63.2,15.4 L56.1,11.1 Q58.2,8 60.5,3.9 Z" fill="url(#gold)"/><polygon points="63.3,16.2 70,11.6 70,12.5 63.3,17.2" fill="#f0dc98"/><polygon points="55.9,11.9 63,16.3 63,17.3 55.7,12.8" fill="#c89020"/></g>
<g shape-rendering="auto"><polygon points="85.3,3.4 88.8,2.4 88.8,11 85.3,10.4" fill="#1488f8" stroke="#0a60c8" stroke-width="0.6"/><polygon points="88.8,2.4 96,3 96,10.6 88.8,11" fill="url(#srv)"/><polygon points="85.3,3.4 88.8,2.4 96,3 92.6,3.8" fill="#9cd4ff"/><rect x="90.4" y="6.2" width="4.6" height="0.9" fill="#f0f8ff"/><rect x="90.4" y="8" width="4.6" height="0.8" fill="#d8ecff"/><path d="M85.4,17.6 a2.6,2.6 0 0 1 0.4,-5.2 a3.3,3.3 0 0 1 6.2,-0.8 a2.9,2.9 0 0 1 4.4,1.6 a2.4,2.4 0 0 1 -0.3,4.4 z" fill="url(#cloud)" stroke="#4a72b4" stroke-width="0.9"/></g>
<g shape-rendering="auto" fill="none"><path d="M118.7,2.2 A7.6,7.6 0 0 1 118.7,17.4 Z" fill="url(#sig)" stroke="none" opacity="0.7"/><path d="M118.7,17.3 A7.5,7.5 0 0 1 118.7,2.3" stroke="#9cb4e8" stroke-width="1"/><path d="M118.7,15.1 A5.3,5.3 0 0 1 118.7,4.5" stroke="#5c88e0" stroke-width="1.2"/><path d="M118.7,12.9 A3.1,3.1 0 0 1 118.7,6.7" stroke="#3464d8" stroke-width="1.2"/><path d="M118.7,2.3 A7.5,7.5 0 0 1 118.7,17.3" stroke="#78b078" stroke-width="1" opacity="0.8"/><path d="M118.7,4.5 A5.3,5.3 0 0 1 118.7,15.1" stroke="#8cbc98" stroke-width="1.1" opacity="0.8"/><path d="M118.7,6.7 A3.1,3.1 0 0 1 121.8,9.8" stroke="#88a8c8" stroke-width="1.1" opacity="0.8"/><circle cx="118.6" cy="9.7" r="1.5" fill="#2460d4" stroke="none"/><rect x="118.6" y="10.4" width="1.2" height="7.4" fill="#18a818" stroke="none"/></g>
<g shape-rendering="auto"><polygon points="138.9,8.6 153.6,8.6 150,14 145.4,17.8 143.8,17" fill="url(#ycone)" stroke="#c8961c" stroke-width="0.6"/><ellipse cx="146.2" cy="6.6" rx="7.9" ry="2.7" fill="url(#hat)" stroke="#2c78a8" stroke-width="0.6"/><ellipse cx="145.9" cy="4.6" rx="4" ry="2.7" fill="#7cc0e8" stroke="#3c88b8" stroke-width="0.5"/><ellipse cx="145.2" cy="3.9" rx="2" ry="1" fill="#b4def4"/><circle cx="150.3" cy="13.8" r="4.2" fill="url(#badge)"/><rect x="148.9" y="12.4" width="2.8" height="2.8" fill="#fff"/></g>
<g>
<text x="159" y="13.2" font-size="12" fill="#000" stroke="#000" stroke-width="0.25" text-anchor="start" text-rendering="geometricPrecision" style="font-family:'Liberation Sans','Noto Sans CJK SC',sans-serif;">自动交易</text>
</g>
<rect x="214" y="0" width="1" height="21" fill="#a0a0a0"/>
<rect x="215" y="0" width="1" height="21" fill="#ffffff"/>
<rect x="218" y="0" width="3" height="1" fill="#a8a8a8"/>
<rect x="218" y="2" width="3" height="1" fill="#a8a8a8"/>
<rect x="218" y="4" width="3" height="1" fill="#a8a8a8"/>
<rect x="218" y="6" width="3" height="1" fill="#a8a8a8"/>
<rect x="218" y="8" width="3" height="1" fill="#a8a8a8"/>
<rect x="218" y="10" width="3" height="1" fill="#a8a8a8"/>
<rect x="218" y="12" width="3" height="1" fill="#a8a8a8"/>
<rect x="218" y="14" width="3" height="1" fill="#a8a8a8"/>
<rect x="218" y="16" width="3" height="1" fill="#a8a8a8"/>
<rect x="218" y="18" width="3" height="1" fill="#a8a8a8"/>
<rect x="232" y="5" width="1" height="13" fill="#555"/>
<rect x="230" y="15" width="14" height="1" fill="#555"/>
<polygon points="232.5,3.5 230.5,6.5 234.5,6.5" fill="#555" shape-rendering="auto"/>
<polygon points="244.5,15.5 241.5,13.5 241.5,17.5" fill="#555" shape-rendering="auto"/>
<rect x="238" y="5" width="1" height="9" fill="#18a018"/>
<rect x="239" y="6" width="2" height="1" fill="#18a018"/>
<rect x="236" y="12" width="2" height="1" fill="#18a018"/>
<rect x="252" y="0" width="1" height="20" fill="#a0a0a0"/>
<rect x="253" y="0" width="1" height="20" fill="#ffffff"/>
<rect x="254" y="0" width="24" height="20" fill="url(#chk)"/>
<rect x="260" y="5" width="1" height="13" fill="#555"/>
<rect x="258" y="15" width="14" height="1" fill="#555"/>
<polygon points="260.5,3.5 258.5,6.5 262.5,6.5" fill="#555" shape-rendering="auto"/>
<polygon points="272.5,15.5 269.5,13.5 269.5,17.5" fill="#555" shape-rendering="auto"/>
<rect x="266" y="2" width="1" height="12" fill="#10a010"/>
<rect x="264.5" y="4.5" width="4" height="7" fill="#50f070" stroke="#10a010" stroke-width="1" shape-rendering="auto"/>
<rect x="288" y="5" width="1" height="13" fill="#555"/>
<rect x="286" y="15" width="14" height="1" fill="#555"/>
<polygon points="288.5,3.5 286.5,6.5 290.5,6.5" fill="#555" shape-rendering="auto"/>
<polygon points="300.5,15.5 297.5,13.5 297.5,17.5" fill="#555" shape-rendering="auto"/>
<path d="M287.4,12.6 C290,11 292,7 293.6,7.2 C295.4,7.4 296.6,10.4 298.8,11.4" fill="none" stroke="#28a028" stroke-width="1.2" shape-rendering="auto"/>
<rect x="309" y="0" width="1" height="20" fill="#a0a0a0"/>
<rect x="310" y="0" width="1" height="20" fill="#ffffff"/>
<g shape-rendering="auto"><line x1="328.2" y1="12" x2="333" y2="16.8" stroke="#b89010" stroke-width="3.4"/><line x1="328.4" y1="11.8" x2="333" y2="16.4" stroke="#f0d850" stroke-width="1.6"/><circle cx="324" cy="7.8" r="5.6" fill="url(#lens)" stroke="#2878d0" stroke-width="1.1"/><rect x="321" y="7.2" width="6" height="1.5" fill="#4888b0"/><rect x="323.25" y="4.9" width="1.5" height="6" fill="#4888b0"/></g>
<g shape-rendering="auto"><line x1="356.2" y1="12" x2="361" y2="16.8" stroke="#b89010" stroke-width="3.4"/><line x1="356.4" y1="11.8" x2="361" y2="16.4" stroke="#f0d850" stroke-width="1.6"/><circle cx="352" cy="7.8" r="5.6" fill="url(#lens)" stroke="#2878d0" stroke-width="1.1"/><rect x="349" y="7.2" width="6" height="1.5" fill="#4888b0"/></g>
<rect x="374" y="2" width="8" height="8" fill="#46a01c"/>
<rect x="375" y="5" width="6" height="4" fill="#ffffff"/>
<rect x="376" y="6" width="4" height="1" fill="#a8dc88"/>
<rect x="376" y="8" width="4" height="1" fill="#46a01c"/>
<rect x="375" y="3" width="1" height="1" fill="#e0f0ff"/>
<rect x="382" y="2" width="8" height="8" fill="#2454d0"/>
<rect x="383" y="5" width="6" height="4" fill="#ffffff"/>
<rect x="384" y="6" width="4" height="1" fill="#98b0f0"/>
<rect x="384" y="8" width="4" height="1" fill="#2454d0"/>
<rect x="383" y="3" width="1" height="1" fill="#e0f0ff"/>
<rect x="374" y="10" width="8" height="8" fill="#2454d0"/>
<rect x="375" y="13" width="6" height="4" fill="#ffffff"/>
<rect x="376" y="14" width="4" height="1" fill="#98b0f0"/>
<rect x="376" y="16" width="4" height="1" fill="#2454d0"/>
<rect x="375" y="11" width="1" height="1" fill="#e0f0ff"/>
<rect x="382" y="10" width="8" height="8" fill="#46a01c"/>
<rect x="383" y="13" width="6" height="4" fill="#ffffff"/>
<rect x="384" y="14" width="4" height="1" fill="#a8dc88"/>
<rect x="384" y="16" width="4" height="1" fill="#46a01c"/>
<rect x="383" y="11" width="1" height="1" fill="#e0f0ff"/>
<rect x="399" y="0" width="1" height="20" fill="#a0a0a0"/>
<rect x="400" y="0" width="1" height="20" fill="#ffffff"/>
<rect x="404" y="0" width="1" height="20" fill="#a0a0a0"/>
<rect x="405" y="0" width="1" height="20" fill="#ffffff"/>
<rect x="406" y="0" width="24" height="20" fill="url(#chk)"/>
<rect x="412" y="5" width="1" height="13" fill="#555"/>
<rect x="410" y="15" width="14" height="1" fill="#555"/>
<polygon points="412.5,3.5 410.5,6.5 414.5,6.5" fill="#555" shape-rendering="auto"/>
<polygon points="424.5,15.5 421.5,13.5 421.5,17.5" fill="#555" shape-rendering="auto"/>
<polygon points="417.5,6 417.5,12 421.5,9" fill="#fff" stroke="#20a020" stroke-width="1" shape-rendering="auto"/>
<rect x="432" y="0" width="1" height="20" fill="#a0a0a0"/>
<rect x="433" y="0" width="1" height="20" fill="#ffffff"/>
<rect x="434" y="0" width="24" height="20" fill="url(#chk)"/>
<rect x="440" y="5" width="1" height="13" fill="#555"/>
<rect x="438" y="15" width="14" height="1" fill="#555"/>
<polygon points="440.5,3.5 438.5,6.5 442.5,6.5" fill="#555" shape-rendering="auto"/>
<polygon points="452.5,15.5 449.5,13.5 449.5,17.5" fill="#555" shape-rendering="auto"/>
<rect x="446" y="4" width="1" height="10" fill="#1060c0"/>
<g shape-rendering="auto"><line x1="448" y1="9.5" x2="452" y2="9.5" stroke="#d03010" stroke-width="1.2"/><polygon points="447.2,9.5 450,7.2 450,11.8" fill="#d03010"/></g>
<rect x="461" y="0" width="1" height="20" fill="#a0a0a0"/>
<rect x="462" y="0" width="1" height="20" fill="#ffffff"/>
<g shape-rendering="auto"><path d="M471.6,2.6 h7 l3.6,3.4 v9.4 h-10.6 z" fill="#fbfbfb" stroke="#8c8c8c" stroke-width="0.9"/><path d="M478.6,2.6 v3.4 h3.6" fill="#e4e4e4" stroke="#8c8c8c" stroke-width="0.7"/><path d="M476.2,5.6 q-1.6,0 -1.6,1.4 v1.4 q0,0.9 -0.9,0.9 q0.9,0 0.9,0.9 v1.6 q0,1.2 1.4,1.2" fill="none" stroke="#5a5a50" stroke-width="0.9"/><path d="M479.3,8.4 h3.6 v4 h4 v3.6 h-4 v4 h-3.6 v-4 h-4 v-3.6 h4 z" fill="url(#gplus)" stroke="#0a8a0a" stroke-width="0.8"/></g>
<polygon points="493,9 498,9 495.5,12" fill="#000" shape-rendering="auto"/>
<g shape-rendering="auto"><circle cx="516.9" cy="10" r="7.9" fill="url(#ring)"/><circle cx="516.9" cy="10" r="5.3" fill="url(#clock)"/><g fill="#8090a0"><circle cx="516.9" cy="5.6" r="0.45"/><circle cx="516.9" cy="14.4" r="0.45"/><circle cx="512.5" cy="10" r="0.45"/><circle cx="521.3" cy="10" r="0.45"/><circle cx="513.8" cy="6.9" r="0.35"/><circle cx="520" cy="6.9" r="0.35"/><circle cx="513.8" cy="13.1" r="0.35"/><circle cx="520" cy="13.1" r="0.35"/></g><path d="M516.9,6.4 v3.8 h2.6" fill="none" stroke="#303840" stroke-width="1.1"/></g>
<polygon points="532,9 537,9 534.5,12" fill="#000" shape-rendering="auto"/>
<g shape-rendering="auto"><rect x="548.5" y="3.5" width="15" height="13" fill="#fdfdfd" stroke="#3a78d8" stroke-width="1"/><rect x="548" y="3" width="16" height="2.6" fill="url(#thead)"/><rect x="549" y="10" width="14" height="1" fill="#5a90e0"/><polyline points="550.5,9 552.6,8.4 554,7.4 556,8.2 558,8.4 560,7.4 562,7.2" fill="none" stroke="#a82010" stroke-width="1.1"/><polyline points="550.5,14.6 552.8,14 554.6,14.6 556.6,13.6 558.6,12.4 560,13.4 562,14.8" fill="none" stroke="#18902a" stroke-width="1.1"/></g>
<polygon points="571,9 576,9 573.5,12" fill="#000" shape-rendering="auto"/>
<rect x="582" y="0" width="1" height="22" fill="#a0a0a0"/>
<rect x="583" y="0" width="1" height="22" fill="#ffffff"/>
<rect x="586" y="0" width="3" height="1" fill="#a8a8a8"/>
<rect x="586" y="2" width="3" height="1" fill="#a8a8a8"/>
<rect x="586" y="4" width="3" height="1" fill="#a8a8a8"/>
<rect x="586" y="6" width="3" height="1" fill="#a8a8a8"/>
<rect x="586" y="8" width="3" height="1" fill="#a8a8a8"/>
<rect x="586" y="10" width="3" height="1" fill="#a8a8a8"/>
<rect x="586" y="12" width="3" height="1" fill="#a8a8a8"/>
<rect x="586" y="14" width="3" height="1" fill="#a8a8a8"/>
<rect x="586" y="16" width="3" height="1" fill="#a8a8a8"/>
<rect x="586" y="18" width="3" height="1" fill="#a8a8a8"/>
<rect x="592" y="0" width="1" height="20" fill="#a0a0a0"/>
<rect x="593" y="0" width="1" height="20" fill="#ffffff"/>
<rect x="593" y="0" width="24" height="20" fill="url(#chk)"/>
<polygon points="600,3 600,15 603,12.2 605.4,17 607.4,16 605,11.4 608.8,11.4" fill="#505050" shape-rendering="auto"/>
<rect x="632" y="3" width="1" height="15" fill="#505050"/>
<rect x="625" y="10" width="15" height="1" fill="#505050"/>
<rect x="632" y="10" width="1" height="1" fill="#f0f0f0"/>
<rect x="649" y="0" width="1" height="20" fill="#a0a0a0"/>
<rect x="650" y="0" width="1" height="20" fill="#ffffff"/>
<rect x="666" y="4" width="1" height="13" fill="#505050"/>
<rect x="689" y="10" width="12" height="1" fill="#505050"/>
<rect x="710" y="0" width="26" height="1" fill="#ffffff"/>
<rect x="710" y="0" width="1" height="20" fill="#ffffff"/>
<rect x="735" y="0" width="1" height="20" fill="#a0a0a0"/>
<rect x="710" y="20" width="26" height="1" fill="#a0a0a0"/>
<line x1="715.8" y1="16" x2="728.2" y2="3.8" stroke="#505050" stroke-width="1.2" shape-rendering="auto"/>
<g shape-rendering="auto" stroke="#505050" stroke-width="1" fill="none"><line x1="743" y1="11.5" x2="756" y2="3.5"/><line x1="745" y1="16.5" x2="757" y2="9"/><line x1="747" y1="7" x2="745.5" y2="16"/><line x1="750" y1="5.5" x2="748.5" y2="14.5"/><line x1="753" y1="4" x2="751.5" y2="13"/><line x1="756" y1="2.5" x2="754.5" y2="11"/></g>
<text transform="translate(753.8,18.7) scale(1,1)" font-size="7" fill="#303030" stroke="#303030" stroke-width="0" text-anchor="start" font-weight="bold" text-rendering="geometricPrecision">E</text>
<rect x="772" y="3" width="1" height="1" fill="#505050"/>
<rect x="774" y="3" width="1" height="1" fill="#505050"/>
<rect x="776" y="3" width="1" height="1" fill="#505050"/>
<rect x="778" y="3" width="1" height="1" fill="#505050"/>
<rect x="780" y="3" width="1" height="1" fill="#505050"/>
<rect x="782" y="3" width="1" height="1" fill="#505050"/>
<rect x="784" y="3" width="1" height="1" fill="#505050"/>
<rect x="772" y="7" width="1" height="1" fill="#505050"/>
<rect x="774" y="7" width="1" height="1" fill="#505050"/>
<rect x="776" y="7" width="1" height="1" fill="#505050"/>
<rect x="778" y="7" width="1" height="1" fill="#505050"/>
<rect x="780" y="7" width="1" height="1" fill="#505050"/>
<rect x="782" y="7" width="1" height="1" fill="#505050"/>
<rect x="784" y="7" width="1" height="1" fill="#505050"/>
<rect x="772" y="10" width="1" height="1" fill="#505050"/>
<rect x="774" y="10" width="1" height="1" fill="#505050"/>
<rect x="776" y="10" width="1" height="1" fill="#505050"/>
<rect x="778" y="10" width="1" height="1" fill="#505050"/>
<rect x="780" y="10" width="1" height="1" fill="#505050"/>
<rect x="782" y="10" width="1" height="1" fill="#505050"/>
<rect x="784" y="10" width="1" height="1" fill="#505050"/>
<rect x="772" y="14" width="1" height="1" fill="#505050"/>
<rect x="774" y="14" width="1" height="1" fill="#505050"/>
<rect x="776" y="14" width="1" height="1" fill="#505050"/>
<rect x="778" y="14" width="1" height="1" fill="#505050"/>
<rect x="780" y="14" width="1" height="1" fill="#505050"/>
<rect x="782" y="14" width="1" height="1" fill="#505050"/>
<rect x="784" y="14" width="1" height="1" fill="#505050"/>
<text transform="translate(781.8,18.7) scale(1,1)" font-size="7" fill="#303030" stroke="#303030" stroke-width="0" text-anchor="start" font-weight="bold" text-rendering="geometricPrecision">F</text>
<text transform="translate(802.6,14.6) scale(0.98,1)" font-size="12.4" fill="#505050" stroke="#505050" stroke-width="0.2" text-anchor="start" font-weight="normal" text-rendering="geometricPrecision">A</text>
<rect x="829" y="4" width="1" height="1" fill="#505050"/>
<rect x="829" y="16" width="1" height="1" fill="#505050"/>
<rect x="831" y="4" width="1" height="1" fill="#505050"/>
<rect x="831" y="16" width="1" height="1" fill="#505050"/>
<rect x="833" y="4" width="1" height="1" fill="#505050"/>
<rect x="833" y="16" width="1" height="1" fill="#505050"/>
<rect x="835" y="4" width="1" height="1" fill="#505050"/>
<rect x="835" y="16" width="1" height="1" fill="#505050"/>
<rect x="837" y="4" width="1" height="1" fill="#505050"/>
<rect x="837" y="16" width="1" height="1" fill="#505050"/>
<rect x="839" y="4" width="1" height="1" fill="#505050"/>
<rect x="839" y="16" width="1" height="1" fill="#505050"/>
<rect x="829" y="4" width="1" height="1" fill="#505050"/>
<rect x="840" y="4" width="1" height="1" fill="#505050"/>
<rect x="829" y="6" width="1" height="1" fill="#505050"/>
<rect x="840" y="6" width="1" height="1" fill="#505050"/>
<rect x="829" y="8" width="1" height="1" fill="#505050"/>
<rect x="840" y="8" width="1" height="1" fill="#505050"/>
<rect x="829" y="10" width="1" height="1" fill="#505050"/>
<rect x="840" y="10" width="1" height="1" fill="#505050"/>
<rect x="829" y="12" width="1" height="1" fill="#505050"/>
<rect x="840" y="12" width="1" height="1" fill="#505050"/>
<rect x="829" y="14" width="1" height="1" fill="#505050"/>
<rect x="840" y="14" width="1" height="1" fill="#505050"/>
<rect x="829" y="16" width="1" height="1" fill="#505050"/>
<rect x="840" y="16" width="1" height="1" fill="#505050"/>
<rect x="831" y="6" width="8" height="1.4" fill="#505050"/>
<rect x="834.3" y="6" width="1.4" height="9" fill="#505050"/>
<g shape-rendering="auto" fill="#505050"><polygon points="859.8,3.8 856.2,7 859.8,9 863.4,7"/><polygon points="866.8,11.4 863,14.2 866.8,17.2 870.6,14.2"/><polyline points="858.2,9.6 860.8,12.4 865,8.2" fill="none" stroke="#505050" stroke-width="1.2"/></g>
<polygon points="877,9 882,9 879.5,12" fill="#000" shape-rendering="auto"/>
<rect x="888" y="0" width="1" height="22" fill="#a0a0a0"/>
<rect x="889" y="0" width="1" height="22" fill="#ffffff"/>
<rect x="892" y="0" width="3" height="1" fill="#a8a8a8"/>
<rect x="892" y="2" width="3" height="1" fill="#a8a8a8"/>
<rect x="892" y="4" width="3" height="1" fill="#a8a8a8"/>
<rect x="892" y="6" width="3" height="1" fill="#a8a8a8"/>
<rect x="892" y="8" width="3" height="1" fill="#a8a8a8"/>
<rect x="892" y="10" width="3" height="1" fill="#a8a8a8"/>
<rect x="892" y="12" width="3" height="1" fill="#a8a8a8"/>
<rect x="892" y="14" width="3" height="1" fill="#a8a8a8"/>
<rect x="892" y="16" width="3" height="1" fill="#a8a8a8"/>
<rect x="892" y="18" width="3" height="1" fill="#a8a8a8"/>
<text transform="translate(903.4,13.6) scale(0.96,1)" font-size="9.6" fill="#404040" stroke="#404040" stroke-width="0.2" text-anchor="start" font-weight="normal" text-rendering="geometricPrecision">M1</text>
<text transform="translate(931.6,13.6) scale(0.96,1)" font-size="9.6" fill="#404040" stroke="#404040" stroke-width="0.2" text-anchor="start" font-weight="normal" text-rendering="geometricPrecision">M5</text>
<text transform="translate(957.6,13.6) scale(0.96,1)" font-size="9.6" fill="#404040" stroke="#404040" stroke-width="0.2" text-anchor="start" font-weight="normal" text-rendering="geometricPrecision">M15</text>
<text transform="translate(985.4,13.6) scale(0.96,1)" font-size="9.6" fill="#404040" stroke="#404040" stroke-width="0.2" text-anchor="start" font-weight="normal" text-rendering="geometricPrecision">M30</text>
<text transform="translate(1016.6,13.6) scale(0.96,1)" font-size="9.6" fill="#404040" stroke="#404040" stroke-width="0.2" text-anchor="start" font-weight="normal" text-rendering="geometricPrecision">H1</text>
<rect x="1038" y="0" width="1" height="20" fill="#a0a0a0"/>
<rect x="1039" y="0" width="1" height="20" fill="#ffffff"/>
<rect x="1040" y="0" width="24" height="20" fill="url(#chk)"/>
<text transform="translate(1043.4,13.6) scale(0.96,1)" font-size="9.6" fill="#404040" stroke="#404040" stroke-width="0.2" text-anchor="start" font-weight="normal" text-rendering="geometricPrecision">H4</text>
<text transform="translate(1072.4,13.6) scale(0.96,1)" font-size="9.6" fill="#404040" stroke="#404040" stroke-width="0.2" text-anchor="start" font-weight="normal" text-rendering="geometricPrecision">D1</text>
<text transform="translate(1099.8,13.6) scale(0.96,1)" font-size="9.6" fill="#404040" stroke="#404040" stroke-width="0.2" text-anchor="start" font-weight="normal" text-rendering="geometricPrecision">W1</text>
<text transform="translate(1126.6,13.6) scale(0.96,1)" font-size="9.6" fill="#404040" stroke="#404040" stroke-width="0.2" text-anchor="start" font-weight="normal" text-rendering="geometricPrecision">MN</text>
<rect x="1149" y="0" width="1" height="22" fill="#a0a0a0"/>
<rect x="1150" y="0" width="1" height="22" fill="#ffffff"/>
<g shape-rendering="auto"><line x1="1616.6" y1="10.4" x2="1611.6" y2="15" stroke="#2458c8" stroke-width="2.2"/><circle cx="1619.6" cy="7.6" r="3.8" fill="#f8f8ff" stroke="#2458c8" stroke-width="1.3"/><path d="M1637,9 q5,-3.4 10,0 q2.4,4 -3,6.6 l-3.6,0.2 l-2,2.4 l0.2,-2.8 q-4,-2.4 -1.6,-6.4 z" fill="#e6e6ee" stroke="#b8b8c0" stroke-width="0.8"/><circle cx="1650.5" cy="7.4" r="8" fill="url(#badge)"/></g>
<text transform="translate(1650.6,11.8) scale(1,1)" font-size="12.4" fill="#fff" stroke="#fff" stroke-width="0" text-anchor="middle" font-weight="bold" text-rendering="geometricPrecision">1</text>
</svg>
</body></html>
